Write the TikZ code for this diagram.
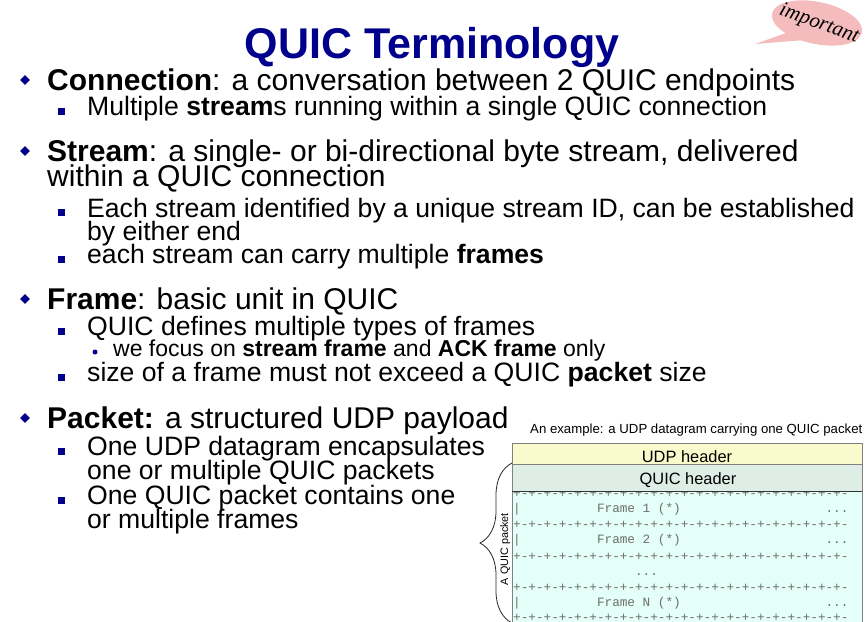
\documentclass[tikz,border=0pt]{standalone}
\usepackage{fontspec}
\setmainfont{Liberation Sans}
\setmonofont{Liberation Mono}
\newfontfamily\impfont{Liberation Serif}
\usetikzlibrary{shapes.geometric,decorations.pathreplacing}
\definecolor{quicblue}{RGB}{0,0,140}
\definecolor{udpyellow}{RGB}{250,250,204}
\definecolor{quichead}{RGB}{222,238,230}
\definecolor{framefill}{RGB}{228,255,247}
\definecolor{bubblepink}{RGB}{244,188,188}
\definecolor{monogray}{RGB}{110,110,110}

\begin{document}
\begin{tikzpicture}[x=1pt,y=-1pt,
    lvlone/.style={anchor=base west,inner sep=0pt,font=\fontsize{30}{36}\selectfont},
    lvltwo/.style={anchor=base west,inner sep=0pt,font=\fontsize{26.6}{32}\selectfont},
    lvlthree/.style={anchor=base west,inner sep=0pt,font=\fontsize{23}{27}\selectfont},
    dia/.style={diamond,fill=quicblue,inner sep=0pt,minimum size=10pt},
    sq/.style={rectangle,fill=quicblue,inner sep=0pt,minimum size=7pt},
    dot/.style={circle,fill=quicblue,inner sep=0pt,minimum size=5pt},
    mono/.style={anchor=base west,inner sep=0pt,text=monogray,font=\ttfamily\fontsize{12.7}{14}\selectfont},
    hdr/.style={anchor=base,inner sep=0pt,font=\fontsize{16.4}{18}\selectfont}]
  \useasboundingbox (0,0) rectangle (866,621);

  \node[anchor=base,inner sep=0pt,text=quicblue,font=\bfseries\fontsize{43}{50}\selectfont] (title) at (432,58) {QUIC Terminology};

  \fill[bubblepink] (786,33) -- (755,44) -- (805,40) -- cycle;
  \fill[bubblepink,rotate around={-12:(817,23)}] (817,23) ellipse [x radius=46, y radius=21];
  \node[rotate=-20,inner sep=0pt,font=\impfont\itshape\fontsize{21}{22}\selectfont] (imp) at (819,24) {important};

  \node[dia] (dconn) at (25,80) {};
  \node[lvlone] (conn) at (47,90) {\textbf{Connection}: a conversation between 2 QUIC endpoints};
  \node[sq] (smulti) at (61,111) {};
  \node[lvltwo] (multi) at (87,115) {Multiple \textbf{stream}s running within a single QUIC connection};

  \node[dia] (dstream) at (25,151) {};
  \node[lvlone] (stream) at (47,161) {\textbf{Stream}: a single- or bi-directional byte stream, delivered};
  \node[lvlone] (within) at (47,186) {within a QUIC connection};
  \node[sq] (seach) at (61,212) {};
  \node[lvltwo] (each) at (87,217) {Each stream identified by a unique stream ID, can be established};
  \node[lvltwo] (byend) at (87,240) {by either end};
  \node[sq] (scarry) at (61,259) {};
  \node[lvltwo] (carry) at (87,263) {each stream can carry multiple \textbf{frames}};

  \node[dia] (dframe) at (25,299) {};
  \node[lvlone] (frame) at (47,309) {\textbf{Frame}: basic unit in QUIC};
  \node[sq] (stypes) at (61,331) {};
  \node[lvltwo] (types) at (87,335) {QUIC defines multiple types of frames};
  \node[dot] (dfocus) at (95,352) {};
  \node[lvlthree] (focus) at (113,356) {we focus on \textbf{stream frame} and \textbf{ACK frame} only};
  \node[sq] (ssize) at (61,377) {};
  \node[lvltwo] (size) at (87,381) {size of a frame must not exceed a QUIC \textbf{packet} size};

  \node[dia] (dpacket) at (25,418) {};
  \node[lvlone] (packet) at (47,428) {\textbf{Packet:} a structured UDP payload};
  \node[sq] (sencap) at (61,451) {};
  \node[lvltwo] (encap) at (87,455) {One UDP datagram encapsulates};
  \node[lvltwo] (oneor) at (87,479) {one or multiple QUIC packets};
  \node[sq] (scontains) at (61,500) {};
  \node[lvltwo] (contains) at (87,504) {One QUIC packet contains one};
  \node[lvltwo] (ormult) at (87,528) {or multiple frames};

  \node[anchor=base west,inner sep=0pt,font=\fontsize{13.2}{15}\selectfont] (caption) at (530,433) {An example: a UDP datagram carrying one QUIC packet};
  \fill[udpyellow] (512,443) rectangle (862,464);
  \fill[quichead] (512,464) rectangle (862,491);
  \fill[framefill] (512,491) rectangle (862,630);
  \begin{scope}
    \clip (512,491) rectangle (862,630);
    \node[mono] (sep0) at (513,497) {+-+-+-+-+-+-+-+-+-+-+-+-+-+-+-+-+-+-+-+-+-+-};
    \node[mono] (bar1) at (513,512) {|};
    \node[mono] (frm1) at (596.8,512) {Frame 1 (*)};
    \node[mono] (dots1) at (825.4,512) {...};
    \node[mono] (sep1) at (513,528.5) {+-+-+-+-+-+-+-+-+-+-+-+-+-+-+-+-+-+-+-+-+-+-};
    \node[mono] (bar2) at (513,543.5) {|};
    \node[mono] (frm2) at (596.8,543.5) {Frame 2 (*)};
    \node[mono] (dots2) at (825.4,543.5) {...};
    \node[mono] (sep2) at (513,560) {+-+-+-+-+-+-+-+-+-+-+-+-+-+-+-+-+-+-+-+-+-+-};
    \node[mono] (dotsmid) at (634.9,575) {...};
    \node[mono] (sep3) at (513,591.5) {+-+-+-+-+-+-+-+-+-+-+-+-+-+-+-+-+-+-+-+-+-+-};
    \node[mono] (bar3) at (513,606.5) {|};
    \node[mono] (frmN) at (596.8,606.5) {Frame N (*)};
    \node[mono] (dotsN) at (825.4,606.5) {...};
    \node[mono] (sep4) at (513,621) {+-+-+-+-+-+-+-+-+-+-+-+-+-+-+-+-+-+-+-+-+-+-};
  \end{scope}
  \draw[gray,line width=0.8pt] (512,630) -- (512,443) -- (862,443) -- (862,630);
  \draw[gray,line width=0.8pt] (512,464) -- (862,464);
  \draw[black!80,line width=0.9pt] (512,491) -- (862,491);
  \node[hdr] (udphdr) at (687,462) {UDP header};
  \node[hdr] (quichdr) at (688,484) {QUIC header};

  \coordinate (bracetop) at (512,463);
  \coordinate (bracebot) at (512,623);
  \draw[black!85,line width=0.8pt,decorate,decoration={brace,amplitude=32pt}] (bracebot) -- (bracetop);
  \node[rotate=90,anchor=base,inner sep=0pt,font=\fontsize{10.8}{12}\selectfont] (pktlabel) at (508,549) {A QUIC packet};
\end{tikzpicture}
\end{document}
